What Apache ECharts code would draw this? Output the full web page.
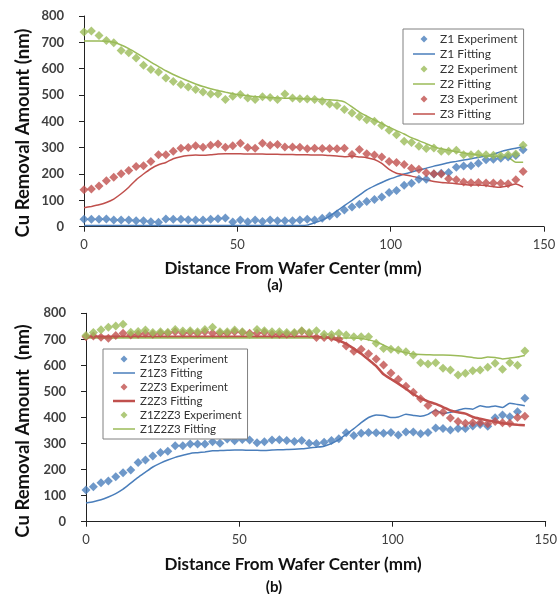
<!DOCTYPE html>
<html>
<head>
<meta charset="utf-8">
<title>Cu removal profiles</title>
<script src="https://cdn.jsdelivr.net/npm/echarts@6/dist/echarts.min.js"></script>
<style>
  html, body { margin: 0; padding: 0; background: #fff; }
  #main { width: 560px; height: 594px; }
</style>
</head>
<body>
<div id="main"></div>
<script>
// distance from wafer center (mm), shared by every series
var dist = [0, 2.4, 4.9, 7.3, 9.7, 12.1, 14.6, 17.0, 19.4, 21.8,
  24.3, 26.7, 29.1, 31.6, 34.0, 36.4, 38.8, 41.3, 43.7, 46.1,
  48.5, 51.0, 53.4, 55.8, 58.2, 60.7, 63.1, 65.5, 68.0, 70.4,
  72.8, 75.2, 77.7, 80.1, 82.5, 84.9, 87.4, 89.8, 92.2, 94.7,
  97.1, 99.5, 101.9, 104.4, 106.8, 109.2, 111.6, 114.1, 116.5, 118.9,
  121.4, 123.8, 126.2, 128.6, 131.1, 133.5, 135.9, 138.3, 140.8, 143.2];

var xTicks = [0, 50, 100, 150];
var yTicks = [0, 100, 200, 300, 400, 500, 600, 700, 800];

// ---- panel (a) ----
var z1Exp = [28, 28, 28, 29, 25, 25, 25, 23, 23, 19, 17, 29, 28, 28, 26, 25, 25, 28, 30, 33,
  18, 25, 19, 25, 20, 25, 23, 23, 23, 25, 28, 25,
  32, 41, 48, 63, 75, 85, 96, 103, 113, 130, 137, 157, 165, 180, 180, 200, 203, 206,
  226, 230, 231, 241, 254, 256, 260, 265, 270, 292];
var z1Fit = [5, 5, 5, 5, 5, 5, 5, 5, 5, 5, 5, 5, 5, 5, 5, 5, 5, 5, 5, 5,
  5, 5, 5, 5, 5, 5, 5, 5, 5, 5, 6,
  15, 25, 40, 60, 80, 100, 120, 140, 155, 168, 180, 190, 200, 208, 215, 222, 230, 236, 243,
  248, 253, 258, 263, 268, 275, 285, 292, 298, 303];
var z2Exp = [739, 743, 726, 707, 698, 669, 660, 641, 613, 597, 587, 565, 551, 540, 530, 521, 511, 504, 504, 483,
  495, 502, 489, 483, 493,
  491, 483, 504, 489, 486, 485, 483, 476, 466, 460, 445, 432, 417, 406, 400,
  384, 366, 349, 324, 320, 305, 297, 299, 286, 286, 290, 273, 273, 276, 273, 271, 269, 273, 276, 309];
var z2Fit = [705, 705, 705, 704, 700, 690, 676, 660, 643, 625, 608, 592, 578, 565, 553, 542, 532, 524, 517, 511,
  505, 500, 497, 494, 492, 490, 489, 488, 487, 486, 485,
  484, 483, 482, 480, 474, 455, 435, 420, 405, 392, 378, 365, 352, 338, 327, 315, 303, 296, 290,
  285, 280, 276, 272, 268, 267, 266, 264, 245, 245];
var z3Exp = [140, 143, 155, 174, 188, 201, 213, 229, 231, 248, 273, 273, 286, 298, 301, 307, 302, 309, 314, 302,
  307, 317, 301, 298, 317, 309, 312, 303, 303, 302, 296, 298, 297, 297, 296, 298, 274, 293, 277, 272,
  265, 248, 244, 236, 222, 218, 205, 201, 200, 182, 178, 170, 167, 168, 166, 166, 165, 163, 178, 210];
var z3Fit = [72, 77, 83, 92, 105, 125, 150, 178, 200, 220, 235, 244, 258, 266, 270, 272, 271, 273, 276, 277,
  277, 277, 276, 276, 276, 275, 275, 274, 274, 273, 273, 272, 272, 270, 268, 266, 268, 265, 262,
  255, 240, 218, 203, 197, 192, 185, 178, 172, 168, 166, 163, 160, 158, 158, 156, 152, 150, 155, 162, 150];

// ---- panel (b) ----
var z13Exp = [122, 134, 150, 156, 173, 188, 198, 227, 237, 252, 266, 270, 292, 292, 298, 298, 298, 307, 301, 317,
  311, 316, 314, 303, 307, 314, 315, 312, 308, 312, 301, 300, 305, 312, 318, 341, 331, 340, 342, 341,
  340, 342, 333, 344, 344, 338, 342, 360, 358, 352, 358, 358, 367, 373, 366, 399, 410, 403, 422, 474];
var z13Fit = [72, 77, 84, 95, 108, 125, 148, 170, 190, 210, 225, 237, 247, 255, 262, 265, 268, 272, 273, 274,
  275, 275, 274, 274, 273, 275, 276, 277, 278, 280, 283, 286, 290, 300, 315, 335, 357, 380, 400, 410,
  408, 400, 402, 412, 408, 405, 412, 428, 415, 420, 428, 435, 432, 445, 440, 444, 438, 455, 450, 445];
var z23Exp = [710, 713, 708, 704, 715, 723, 717, 720, 723, 720, 723, 723, 729, 723, 726, 723, 729, 723, 723, 723,
  729, 726, 723, 723, 726, 720, 720, 720, 722, 731, 722, 707, 707, 707, 700, 674, 654, 662, 645, 625,
  602, 571, 547, 520, 497, 472, 446, 418, 420, 398, 385, 378, 380, 380, 376, 385, 380, 378, 400, 405];
var z23Fit = [710, 710, 710, 710, 710, 710, 710, 710, 710, 710, 710, 710, 710, 710, 710, 710, 710, 710, 710, 710,
  710, 710, 710, 710, 710, 710, 710, 710, 710, 710, 710, 710,
  708, 704, 695, 683, 664, 645, 622, 597, 566, 548, 530, 510, 490, 473, 462, 452, 440, 427,
  420, 415, 402, 395, 389, 384, 378, 375, 372, 370];
var z123Exp = [715, 726, 737, 746, 751, 758, 727, 730, 736, 726, 729, 727, 738, 732, 733, 729, 738, 746, 729, 729,
  736, 729, 719, 738, 733, 729, 729, 726, 726, 733, 726, 733, 720, 719, 723, 717, 710, 710, 710, 685,
  665, 662, 659, 652, 640, 610, 605, 610, 589, 582, 563, 570, 579, 582, 593, 608, 585, 610, 601, 655];
var z123Fit = [705, 705, 705, 705, 705, 705, 705, 705, 705, 705, 705, 705, 705, 705, 705, 705, 705, 705, 705, 705,
  705, 705, 705, 705, 705, 705, 705, 705, 705, 705, 705, 705, 705, 705, 705, 705, 705,
  703, 698, 690, 678, 665, 655, 649, 644, 642, 641, 640, 640, 639, 637, 634, 630, 627, 632, 630,
  625, 628, 632, 638];

var BLUE = '#4a7ebb', RED = '#c0504d', GREEN = '#9bbb59';
var FONT = 'Lato';
var DIAMOND_ICON = 'path://M0,4L4,0L8,4L4,8Z';
var LINE_ICON = 'path://M0,0H22V1.5H0Z';
var THICK_LINE_ICON = 'path://M0,0H22V2.5H0Z';

function pts(ys) {
  return dist.map(function (x, i) { return [x, ys[i]]; });
}

function expSeries(name, ys, color, idx) {
  return {
    name: name, type: 'scatter', xAxisIndex: idx, yAxisIndex: idx,
    symbol: 'diamond', symbolSize: 9, itemStyle: { color: color },
    data: pts(ys), z: 3
  };
}

function fitSeries(name, ys, color, idx, w) {
  return {
    name: name, type: 'line', xAxisIndex: idx, yAxisIndex: idx,
    symbol: 'none', smooth: 0.2, lineStyle: { color: color, width: w || 1.5 },
    itemStyle: { color: color }, data: pts(ys), z: 2
  };
}

function xAxisOf(idx) {
  return {
    gridIndex: idx, type: 'value', min: xTicks[0], max: xTicks[xTicks.length - 1], interval: 50,
    splitLine: { show: false },
    axisLine: { lineStyle: { color: '#222', width: 1 } },
    axisTick: { show: true, length: 5, lineStyle: { color: '#222' } },
    axisLabel: { fontFamily: FONT, fontSize: 13, color: '#404040', margin: 12 }
  };
}

function yAxisOf(idx) {
  return {
    gridIndex: idx, type: 'value', min: yTicks[0], max: yTicks[yTicks.length - 1], interval: 100,
    splitLine: { show: false },
    axisLine: { show: true, lineStyle: { color: '#222', width: 1 } },
    axisTick: { show: true, length: 5, lineStyle: { color: '#222' } },
    axisLabel: { fontFamily: FONT, fontSize: 13, fontWeight: 'bold', color: '#404040', margin: 20 }
  };
}

// legend entries alternate experiment (diamond) / fitting (thin line)
function legendOf(names, left, top, lh, gap, fs, thick) {
  return {
    orient: 'vertical', left: left, top: top,
    data: names.map(function (n, i) {
      var icon = i % 2 === 0 ? DIAMOND_ICON : (n === thick ? THICK_LINE_ICON : LINE_ICON);
      return { name: n, icon: icon };
    }),
    symbolKeepAspect: true,
    borderColor: '#808080', borderWidth: 1, backgroundColor: '#fff',
    padding: [4, 6, 4, 10], itemGap: gap, itemWidth: 22, itemHeight: 7,
    textStyle: { fontFamily: FONT, fontSize: fs, color: '#333', lineHeight: lh },
    selectedMode: false
  };
}

function label(text, x, y, size, rot) {
  return {
    type: 'text', x: x, y: y, rotation: rot || 0,
    style: {
      text: text, font: 'bold ' + size + 'px ' + FONT, fill: '#111',
      align: 'center', verticalAlign: 'middle',
      textAlign: 'center', textVerticalAlign: 'middle'
    }
  };
}

var chart = echarts.init(document.getElementById('main'));

var option = {
  backgroundColor: '#fff',
  animation: false,
  grid: [
    { left: 84, top: 16, width: 460, height: 210.7 },
    { left: 86, top: 313.3, width: 462, height: 208.4 }
  ],
  xAxis: [xAxisOf(0), xAxisOf(1)],
  yAxis: [yAxisOf(0), yAxisOf(1)],
  legend: [
    legendOf(['Z1 Experiment', 'Z1 Fitting', 'Z2 Experiment', 'Z2 Fitting', 'Z3 Experiment', 'Z3 Fitting'], 403, 29, 12, 3, 12),
    legendOf(['Z1Z3 Experiment', 'Z1Z3 Fitting', 'Z2Z3 Experiment', 'Z2Z3 Fitting', 'Z1Z2Z3 Experiment', 'Z1Z2Z3 Fitting'], 103, 349, 10, 2, 11.5, 'Z2Z3 Fitting')
  ],
  graphic: [
    label('Cu Removal Amount (nm)', 23, 133, 18.5, Math.PI / 2),
    label('Distance From Wafer Center (mm)', 293, 269, 17),
    label('(a)', 275, 285, 15),
    label('Cu Removal Amount  (nm)', 23, 431, 18.5, Math.PI / 2),
    label('Distance From Wafer Center (mm)', 293, 565, 17),
    label('(b)', 274, 587, 15)
  ],
  series: [
    expSeries('Z1 Experiment', z1Exp, BLUE, 0),
    fitSeries('Z1 Fitting', z1Fit, BLUE, 0),
    expSeries('Z2 Experiment', z2Exp, GREEN, 0),
    fitSeries('Z2 Fitting', z2Fit, GREEN, 0),
    expSeries('Z3 Experiment', z3Exp, RED, 0),
    fitSeries('Z3 Fitting', z3Fit, RED, 0),

    expSeries('Z1Z3 Experiment', z13Exp, BLUE, 1),
    fitSeries('Z1Z3 Fitting', z13Fit, BLUE, 1),
    expSeries('Z2Z3 Experiment', z23Exp, RED, 1),
    fitSeries('Z2Z3 Fitting', z23Fit, RED, 1, 2.5),
    expSeries('Z1Z2Z3 Experiment', z123Exp, GREEN, 1),
    fitSeries('Z1Z2Z3 Fitting', z123Fit, GREEN, 1)
  ]
};

chart.setOption(option);
</script>
</body>
</html>
